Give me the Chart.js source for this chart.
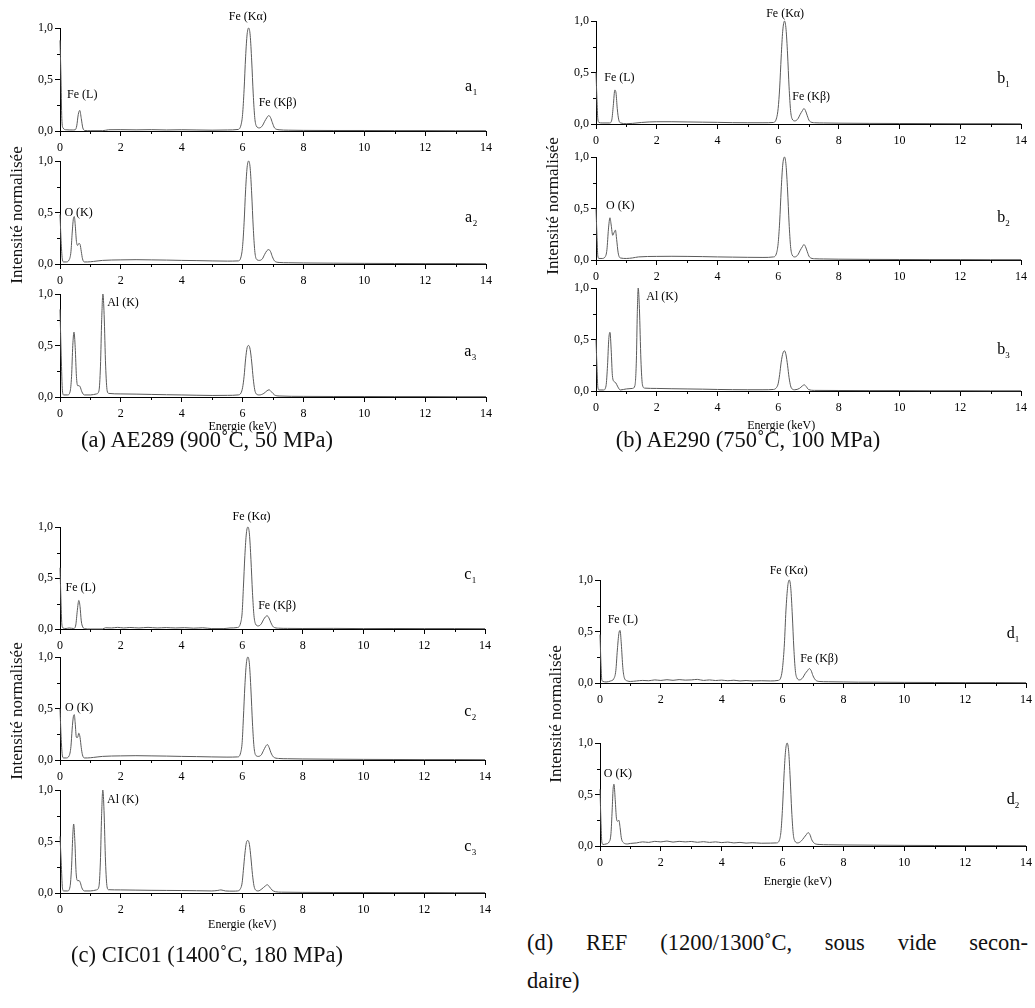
<!DOCTYPE html>
<html>
<head>
<meta charset="utf-8">
<script src="https://cdn.jsdelivr.net/npm/chart.js@4.4.0/dist/chart.umd.min.js"></script>
<style>
  body { margin: 0; background: #fff; width: 1035px; height: 1008px; position: relative; overflow: hidden; font-family: "Liberation Serif", serif; color: #111; }
  canvas { position: absolute; }
  .ytitle { position: absolute; font-size: 17px; white-space: nowrap; transform: translate(-50%, -50%) rotate(-90deg); }
  .caption { position: absolute; font-size: 22.5px; white-space: nowrap; transform: translate(-50%, -50%); }
  .capline { position: absolute; font-size: 22.5px; text-align: justify; text-align-last: justify; }
</style>
</head>
<body>
<script>
// EDS spectra, normalised intensity vs energy (keV)
const a1 = [[0,.88],[.03,.55],[.06,.12],[.1,.03],[.2,.012],[.4,.01],[.5,.012],[.55,.05],[.6,.16],[.65,.2],[.7,.12],[.75,.03],[.82,.005],[1,.003],[1.4,.003],[1.6,.012],[2,.013],[2.5,.011],[3,.013],[3.5,.01],[4,.012],[4.5,.01],[5,.008],[5.5,.01],[5.85,.015],[5.95,.06],[6,.16],[6.05,.4],[6.1,.72],[6.15,.94],[6.2,1],[6.25,.93],[6.3,.68],[6.35,.36],[6.4,.13],[6.45,.05],[6.55,.03],[6.65,.05],[6.72,.09],[6.8,.13],[6.86,.15],[6.92,.13],[6.98,.08],[7.05,.03],[7.2,.012],[7.5,.008],[8,.006],[9,.005],[10,.005],[11,.004],[12,.004],[13,.003],[14,.003]];
const a2 = [[0,.48],[.04,.2],[.08,.04],[.12,.02],[.2,.02],[.3,.04],[.36,.12],[.4,.3],[.44,.44],[.47,.46],[.5,.38],[.54,.22],[.58,.18],[.62,.2],[.66,.19],[.7,.12],[.74,.05],[.8,.02],[.9,.02],[1.1,.025],[1.4,.035],[2,.04],[2.5,.042],[3,.04],[3.5,.038],[4,.035],[4.5,.033],[5,.03],[5.5,.028],[5.85,.03],[5.95,.07],[6,.17],[6.05,.4],[6.1,.72],[6.15,.94],[6.2,1],[6.25,.93],[6.3,.68],[6.35,.36],[6.4,.13],[6.45,.05],[6.55,.035],[6.65,.05],[6.72,.09],[6.8,.13],[6.86,.14],[6.92,.12],[6.98,.07],[7.05,.03],[7.2,.015],[7.5,.012],[8,.01],[9,.008],[10,.006],[11,.005],[12,.004],[13,.004],[14,.003]];
const a3 = [[0,.85],[.04,.4],[.08,.06],[.12,.02],[.25,.02],[.33,.05],[.38,.2],[.42,.5],[.46,.63],[.5,.48],[.54,.2],[.58,.11],[.62,.11],[.66,.1],[.72,.05],[.8,.02],[1,.02],[1.2,.03],[1.28,.06],[1.33,.3],[1.37,.75],[1.41,1],[1.45,.8],[1.5,.3],[1.55,.06],[1.6,.035],[2,.03],[2.5,.028],[3,.025],[3.5,.022],[4,.02],[4.5,.017],[5,.015],[5.5,.016],[5.85,.02],[5.95,.04],[6,.09],[6.05,.2],[6.1,.37],[6.15,.48],[6.2,.5],[6.25,.46],[6.3,.34],[6.35,.18],[6.4,.07],[6.45,.03],[6.55,.02],[6.7,.035],[6.8,.06],[6.87,.07],[6.95,.05],[7.05,.02],[7.2,.01],[8,.006],[9,.005],[10,.005],[11,.004],[12,.004],[13,.003],[14,.003]];

const b1 = [[0,.5],[.03,.25],[.06,.05],[.1,.015],[.2,.01],[.45,.01],[.52,.04],[.57,.18],[.62,.33],[.66,.3],[.7,.15],[.75,.04],[.82,.01],[1,.003],[1.2,.006],[1.5,.015],[2,.022],[2.5,.022],[3,.02],[3.5,.018],[4,.016],[4.5,.013],[5,.012],[5.5,.012],[5.85,.015],[5.95,.06],[6,.15],[6.05,.35],[6.1,.65],[6.15,.9],[6.21,1],[6.26,.92],[6.31,.68],[6.36,.36],[6.41,.13],[6.46,.05],[6.55,.03],[6.65,.05],[6.72,.09],[6.8,.13],[6.85,.15],[6.9,.13],[6.96,.08],[7.03,.03],[7.2,.012],[7.5,.01],[8,.008],[9,.006],[10,.005],[11,.004],[12,.003],[13,.003],[14,.002]];
const b2 = [[0,.5],[.03,.25],[.06,.04],[.1,.015],[.2,.015],[.3,.03],[.36,.1],[.41,.3],[.46,.41],[.5,.34],[.55,.24],[.6,.27],[.64,.29],[.68,.2],[.73,.07],[.8,.02],[1,.015],[1.2,.02],[1.4,.03],[2,.035],[2.5,.036],[3,.035],[3.5,.033],[4,.03],[4.5,.028],[5,.026],[5.5,.025],[5.85,.03],[5.95,.07],[6,.16],[6.05,.37],[6.1,.68],[6.15,.92],[6.21,1],[6.26,.92],[6.31,.68],[6.36,.36],[6.41,.13],[6.46,.05],[6.55,.03],[6.65,.05],[6.72,.09],[6.8,.13],[6.85,.15],[6.9,.13],[6.96,.08],[7.03,.03],[7.2,.012],[7.5,.01],[8,.008],[9,.006],[10,.005],[11,.004],[12,.004],[13,.003],[14,.003]];
const b3 = [[0,.5],[.03,.25],[.06,.04],[.1,.01],[.25,.01],[.33,.05],[.38,.25],[.42,.5],[.46,.57],[.5,.4],[.54,.15],[.6,.09],[.65,.08],[.72,.04],[.8,.01],[1,.02],[1.2,.025],[1.28,.05],[1.33,.3],[1.36,.75],[1.39,1],[1.43,.8],[1.48,.3],[1.53,.06],[1.6,.028],[2,.025],[2.5,.022],[3,.02],[3.5,.018],[4,.015],[4.5,.013],[5,.012],[5.5,.012],[5.85,.015],[5.95,.035],[6,.07],[6.05,.16],[6.1,.28],[6.16,.37],[6.21,.39],[6.26,.35],[6.31,.25],[6.36,.13],[6.41,.05],[6.46,.02],[6.55,.012],[6.7,.025],[6.8,.05],[6.86,.06],[6.92,.045],[7,.015],[7.2,.006],[8,.005],[9,.004],[10,.004],[11,.003],[12,.003],[13,.002],[14,.002]];

const c1 = [[0,.6],[.03,.3],[.06,.05],[.1,.01],[.2,.005],[.3,.01],[.45,.005],[.52,.04],[.57,.18],[.62,.28],[.66,.22],[.7,.08],[.75,.02],[.82,.003],[1,0],[1.4,0],[1.5,.012],[1.7,.01],[1.9,.016],[2.1,.01],[2.3,.015],[2.6,.01],[2.9,.016],[3.2,.01],[3.5,.014],[3.8,.01],[4.1,.013],[4.4,.008],[4.7,.012],[5,.004],[5.4,.004],[5.6,.01],[5.85,.015],[5.95,.06],[6,.16],[6.04,.4],[6.09,.72],[6.14,.94],[6.19,1],[6.24,.93],[6.29,.68],[6.34,.36],[6.39,.13],[6.44,.05],[6.53,.03],[6.63,.05],[6.7,.09],[6.77,.12],[6.82,.13],[6.88,.11],[6.95,.06],[7.03,.02],[7.2,.008],[7.5,.006],[8,.005],[9,.006],[10,.004],[11,.005],[12,.004],[13,.004],[14,.003]];
const c2 = [[0,.5],[.04,.2],[.08,.04],[.12,.02],[.2,.02],[.3,.04],[.36,.13],[.4,.3],[.44,.42],[.47,.44],[.5,.36],[.54,.22],[.58,.22],[.62,.26],[.66,.22],[.7,.12],[.74,.05],[.8,.02],[.9,.02],[1.1,.025],[1.4,.035],[2,.04],[2.5,.042],[3,.04],[3.5,.038],[4,.035],[4.5,.033],[5,.03],[5.5,.028],[5.85,.03],[5.95,.07],[6,.17],[6.04,.4],[6.09,.72],[6.14,.94],[6.19,1],[6.24,.93],[6.29,.68],[6.34,.36],[6.39,.13],[6.44,.05],[6.53,.035],[6.63,.05],[6.7,.09],[6.77,.13],[6.83,.15],[6.89,.12],[6.95,.07],[7.03,.03],[7.2,.015],[7.5,.012],[8,.01],[9,.008],[10,.006],[11,.005],[12,.004],[13,.004],[14,.003]];
const c3 = [[0,.55],[.04,.3],[.08,.05],[.12,.02],[.25,.02],[.33,.06],[.38,.25],[.42,.55],[.45,.67],[.49,.5],[.53,.2],[.58,.12],[.63,.12],[.67,.1],[.72,.05],[.8,.02],[1,.02],[1.2,.03],[1.28,.06],[1.33,.3],[1.37,.75],[1.41,1],[1.45,.8],[1.5,.3],[1.55,.06],[1.6,.032],[2,.03],[2.5,.028],[3,.026],[3.5,.025],[4,.024],[4.5,.022],[5,.02],[5.2,.025],[5.3,.03],[5.45,.02],[5.7,.018],[5.85,.02],[5.95,.045],[6,.1],[6.04,.22],[6.09,.38],[6.14,.49],[6.19,.51],[6.24,.47],[6.29,.34],[6.34,.18],[6.39,.07],[6.44,.03],[6.53,.02],[6.65,.04],[6.75,.065],[6.83,.08],[6.9,.06],[6.98,.03],[7.1,.012],[7.3,.008],[8,.006],[9,.005],[10,.005],[11,.004],[12,.004],[13,.003],[14,.003]];

const d1 = [[0,.47],[.03,.2],[.06,.03],[.1,.015],[.2,.01],[.35,.02],[.45,.04],[.52,.12],[.57,.32],[.62,.48],[.66,.51],[.7,.38],[.75,.15],[.8,.05],[.9,.02],[1,.015],[1.2,.02],[1.4,.025],[1.6,.022],[1.8,.03],[2,.025],[2.2,.032],[2.4,.026],[2.6,.033],[2.8,.028],[3,.03],[3.2,.035],[3.4,.025],[3.6,.03],[3.8,.024],[4,.028],[4.2,.022],[4.4,.027],[4.6,.02],[4.8,.024],[5,.02],[5.3,.022],[5.6,.02],[5.85,.025],[5.95,.06],[6,.15],[6.06,.38],[6.11,.7],[6.17,.94],[6.22,1],[6.27,.92],[6.32,.66],[6.37,.34],[6.42,.12],[6.47,.05],[6.56,.03],[6.66,.05],[6.74,.09],[6.82,.12],[6.88,.14],[6.94,.12],[7,.07],[7.08,.03],[7.2,.015],[7.5,.012],[8,.01],[8.5,.008],[9,.008],[10,.006],[11,.005],[12,.004],[13,.004],[14,.003]];
const d2 = [[0,.55],[.03,.25],[.06,.04],[.1,.015],[.2,.02],[.3,.04],[.36,.12],[.4,.35],[.43,.55],[.46,.6],[.5,.45],[.54,.27],[.58,.24],[.62,.25],[.66,.18],[.7,.08],[.78,.03],[.9,.02],[1,.025],[1.2,.03],[1.4,.04],[1.6,.035],[1.8,.045],[2,.04],[2.2,.048],[2.4,.038],[2.6,.045],[2.8,.04],[3,.044],[3.2,.036],[3.4,.042],[3.6,.035],[3.8,.04],[4,.033],[4.2,.038],[4.4,.03],[4.6,.035],[4.8,.028],[5,.032],[5.3,.027],[5.6,.028],[5.8,.03],[5.9,.06],[5.95,.15],[6,.38],[6.05,.7],[6.1,.93],[6.15,1],[6.2,.92],[6.25,.66],[6.3,.34],[6.35,.12],[6.4,.05],[6.5,.03],[6.62,.05],[6.7,.08],[6.78,.11],[6.84,.13],[6.9,.11],[6.96,.06],[7.05,.025],[7.2,.015],[7.5,.012],[8,.01],[9,.008],[10,.006],[11,.005],[12,.004],[13,.004],[14,.003]];

// axis ticks
const energyTicks = [0, 2, 4, 6, 8, 10, 12, 14];
const intensityTicks = [0, 0.5, 1];

const SERIF = '"Liberation Serif", "Times New Roman", serif';
const INK = '#000';
const LINE = '#5a5a5a';
const PADL = 40, PADR = 16, PADT = 26, PADB = 46;

// peak labels + sample tag, in data units of each sub-plot
const subplots = [
  { spec: a1, box: [60.3, 486.3, 27.7, 130.7], tag: ['a', '1', 13.43, 0.43],
    notes: [[6.17, 1.11, 'Fe (Kα)'], [0.73, 0.35, 'Fe (L)'], [7.15, 0.27, 'Fe (Kβ)']] },
  { spec: a2, box: [60.3, 486.3, 160.7, 263.7], tag: ['a', '2', 13.43, 0.45],
    notes: [[0.61, 0.5, 'O (K)']] },
  { spec: a3, box: [60.3, 486.3, 294, 397], tag: ['a', '3', 13.4, 0.44],
    notes: [[2.07, 0.91, 'Al (K)'], [6.0, -0.29, 'Energie (keV)']] },
  { spec: b1, box: [595.7, 1021, 21, 124.3], tag: ['b', '1', 13.35, 0.44],
    notes: [[6.23, 1.07, 'Fe (Kα)'], [0.77, 0.45, 'Fe (L)'], [7.09, 0.26, 'Fe (Kβ)']] },
  { spec: b2, box: [595.7, 1021, 156.7, 259.7], tag: ['b', '2', 13.35, 0.41],
    notes: [[0.8, 0.53, 'O (K)']] },
  { spec: b3, box: [595.7, 1021, 288.3, 391.7], tag: ['b', '3', 13.35, 0.40],
    notes: [[2.18, 0.91, 'Al (K)'], [6.1, -0.34, 'Energie (keV)']] },
  { spec: c1, box: [60.3, 485.3, 527.3, 629], tag: ['c', '1', 13.43, 0.53],
    notes: [[6.31, 1.1, 'Fe (Kα)'], [0.68, 0.4, 'Fe (L)'], [7.15, 0.23, 'Fe (Kβ)']] },
  { spec: c2, box: [60.3, 485.3, 657, 760], tag: ['c', '2', 13.43, 0.47],
    notes: [[0.63, 0.51, 'O (K)']] },
  { spec: c3, box: [60.3, 485.3, 790.3, 893.3], tag: ['c', '3', 13.43, 0.45],
    notes: [[2.07, 0.9, 'Al (K)'], [6.0, -0.31, 'Energie (keV)']] },
  { spec: d1, box: [600, 1025.7, 580, 683.3], tag: ['d', '1', 13.5, 0.48],
    notes: [[6.2, 1.09, 'Fe (Kα)'], [0.75, 0.61, 'Fe (L)'], [7.2, 0.23, 'Fe (Kβ)']] },
  { spec: d2, box: [600, 1025.7, 743.3, 846.6], tag: ['d', '2', 13.5, 0.45],
    notes: [[0.59, 0.7, 'O (K)'], [6.5, -0.35, 'Energie (keV)']] }
];

const yTitles = [[17, 215], [553, 206], [17, 711], [556, 714]];
const captions = [
  [207, 440, '(a) AE289 (900˚C, 50 MPa)'],
  [748, 440, '(b) AE290 (750˚C, 100 MPa)'],
  [207, 955, '(c) CIC01 (1400˚C, 180 MPa)']
];

// minor ticks (half length) and text annotations
const extras = {
    id: 'extras',
    afterDraw(chart, args, opts) {
        const ctx = chart.ctx;
        const xs = chart.scales.x, ys = chart.scales.y;
        ctx.save();
        ctx.strokeStyle = INK;
        ctx.lineWidth = 1;
        ctx.beginPath();
        for (let v = 1; v < 14; v += 2) {
            const px = Math.round(xs.getPixelForValue(v)) + 0.5;
            ctx.moveTo(px, ys.bottom);
            ctx.lineTo(px, ys.bottom + 3);
        }
        [0.25, 0.75].forEach(v => {
            const py = Math.round(ys.getPixelForValue(v)) + 0.5;
            ctx.moveTo(xs.left - 3, py);
            ctx.lineTo(xs.left, py);
        });
        ctx.stroke();

        ctx.fillStyle = INK;
        ctx.textBaseline = 'middle';
        ctx.textAlign = 'center';
        ctx.font = '12px ' + SERIF;
        opts.notes.forEach(([x, y, text]) => {
            ctx.fillText(text, xs.getPixelForValue(x), ys.getPixelForValue(y));
        });
        const [letter, sub, tx, ty] = opts.tag;
        const px = xs.getPixelForValue(tx), py = ys.getPixelForValue(ty);
        ctx.font = '16px ' + SERIF;
        ctx.fillText(letter, px, py);
        ctx.font = '9px ' + SERIF;
        ctx.textAlign = 'left';
        ctx.fillText(sub, px + 4, py + 6);
        ctx.restore();
    }
};

function makeSubplot(p) {
    const [left, right, top, bottom] = p.box;
    const cv = document.createElement('canvas');
    const w = Math.round(right - left) + PADL + PADR;
    const h = Math.round(bottom - top) + PADT + PADB;
    cv.width = w;
    cv.height = h;
    cv.style.width = w + 'px';
    cv.style.height = h + 'px';
    cv.style.left = (Math.round(left) - PADL) + 'px';
    cv.style.top = (Math.round(top) - PADT) + 'px';
    document.body.appendChild(cv);

    new Chart(cv, {
        type: 'line',
        data: {
            datasets: [{
                data: p.spec.map(([x, y]) => ({ x, y })),
                borderColor: LINE,
                borderWidth: 1,
                pointRadius: 0,
                cubicInterpolationMode: 'monotone',
                fill: false,
                clip: 6
            }]
        },
        options: {
            responsive: false,
            animation: false,
            events: [],
            layout: { padding: { top: PADT, right: PADR, left: 0, bottom: 0 } },
            plugins: {
                legend: { display: false },
                tooltip: { enabled: false },
                extras: { notes: p.notes, tag: p.tag }
            },
            scales: {
                x: {
                    type: 'linear',
                    min: 0,
                    max: 14,
                    afterFit: s => { s.height = PADB; },
                    border: { display: true, color: INK, width: 1 },
                    grid: {
                        drawOnChartArea: false,
                        tickLength: 5,
                        tickColor: c => energyTicks.includes(c.tick.value) ? INK : 'rgba(0,0,0,0)'
                    },
                    ticks: {
                        stepSize: 1,
                        autoSkip: false,
                        maxRotation: 0,
                        padding: 5,
                        color: INK,
                        font: { family: SERIF, size: 12 },
                        callback: v => energyTicks.includes(v) ? String(v) : ''
                    }
                },
                y: {
                    min: 0,
                    max: 1,
                    afterFit: s => { s.width = PADL; },
                    border: { display: true, color: INK, width: 1 },
                    grid: {
                        drawOnChartArea: false,
                        tickLength: 5,
                        tickColor: c => intensityTicks.includes(c.tick.value) ? INK : 'rgba(0,0,0,0)'
                    },
                    ticks: {
                        stepSize: 0.25,
                        padding: 2,
                        color: INK,
                        font: { family: SERIF, size: 12 },
                        callback: v => intensityTicks.includes(v) ? v.toFixed(1).replace('.', ',') : ''
                    }
                }
            }
        },
        plugins: [extras]
    });
}

subplots.forEach(makeSubplot);

yTitles.forEach(([x, y]) => {
    const d = document.createElement('div');
    d.className = 'ytitle';
    d.style.left = x + 'px';
    d.style.top = y + 'px';
    d.textContent = 'Intensité normalisée';
    document.body.appendChild(d);
});

captions.forEach(([x, y, text]) => {
    const d = document.createElement('div');
    d.className = 'caption';
    d.style.left = x + 'px';
    d.style.top = y + 'px';
    d.textContent = text;
    document.body.appendChild(d);
});

// caption (d) is a justified two-line paragraph
const dLine1 = document.createElement('div');
dLine1.className = 'capline';
dLine1.style.left = '527px';
dLine1.style.top = '930px';
dLine1.style.width = '501px';
dLine1.textContent = '(d) REF (1200/1300˚C, sous vide secon-';
document.body.appendChild(dLine1);
const dLine2 = document.createElement('div');
dLine2.className = 'capline';
dLine2.style.left = '527px';
dLine2.style.top = '968px';
dLine2.style.textAlignLast = 'left';
dLine2.textContent = 'daire)';
document.body.appendChild(dLine2);
</script>
</body>
</html>
